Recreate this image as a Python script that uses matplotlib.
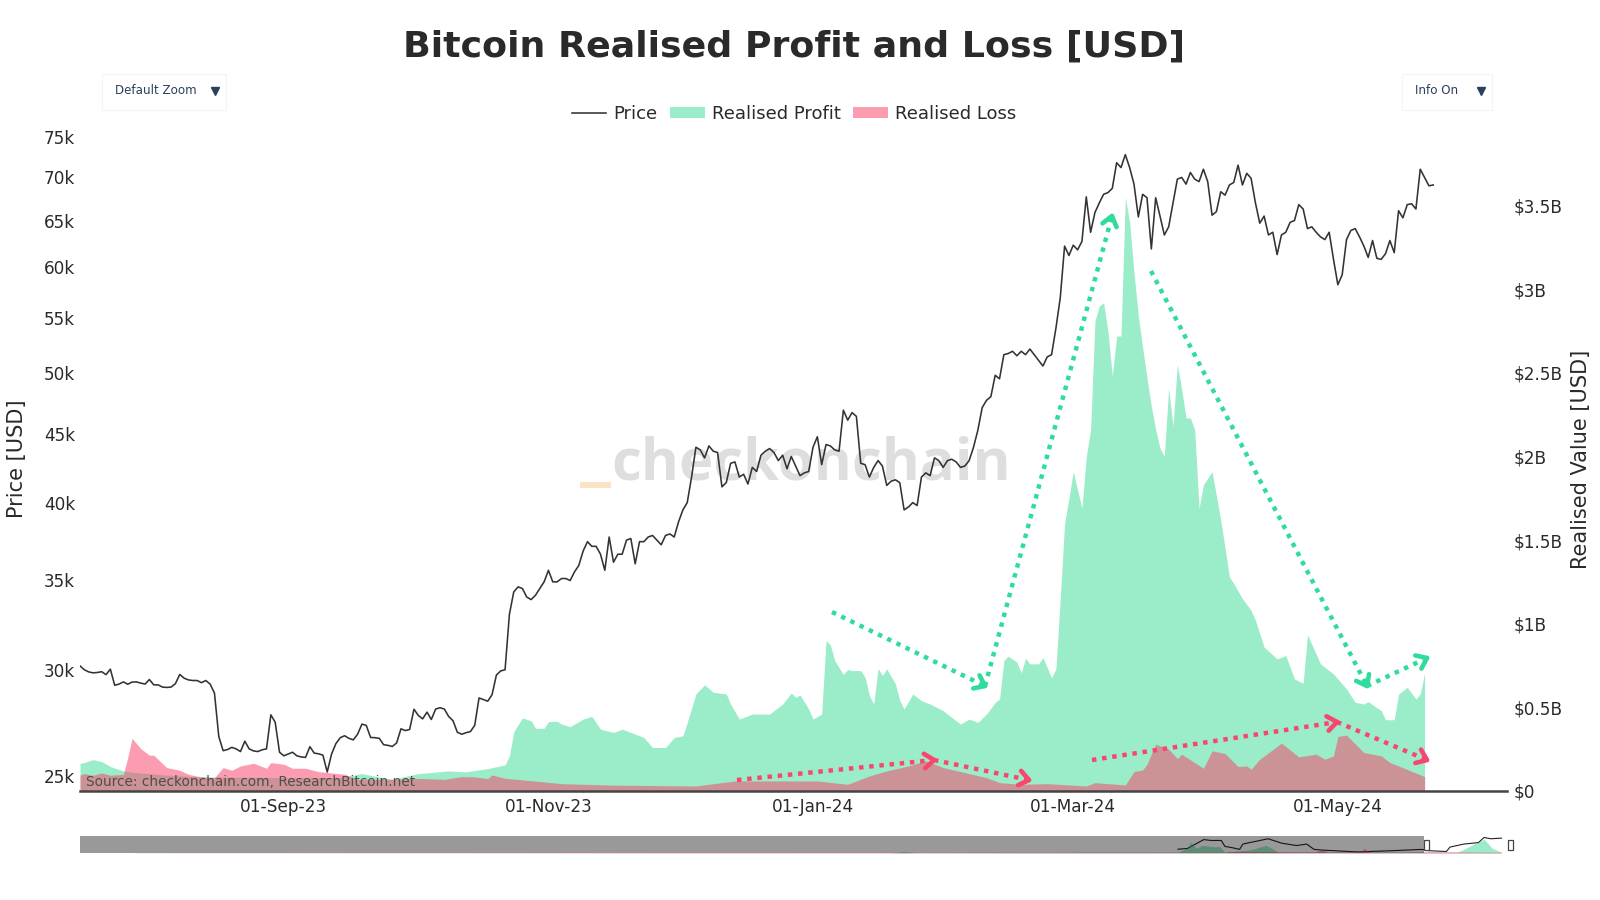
import numpy as np
import pandas as pd
import matplotlib
matplotlib.use('Agg')
import matplotlib.pyplot as plt
import matplotlib.dates as mdates
from matplotlib.lines import Line2D
from matplotlib.patches import Patch, Rectangle

# daily close in $k, from 2023-07-16
start_date = pd.Timestamp('2023-07-16')
price_k = [
    30.2, 30.0, 29.89, 29.84, 29.86, 29.9, 29.75, 30.03, 29.21, 29.27,
    29.38, 29.26, 29.37, 29.38, 29.32, 29.27, 29.5, 29.23, 29.23, 29.12,
    29.1, 29.12, 29.29, 29.76, 29.57, 29.48, 29.45, 29.45, 29.34, 29.45,
    29.27, 28.82, 26.74, 26.1, 26.15, 26.25, 26.18, 26.06, 26.53, 26.18,
    26.09, 26.06, 26.14, 26.18, 27.76, 27.41, 26.03, 25.87, 25.95, 26.03,
    25.87, 25.82, 25.8, 26.28, 25.99, 25.96, 25.9, 25.16, 25.95, 26.42,
    26.69, 26.78, 26.66, 26.59, 26.85, 27.32, 27.26, 26.7, 26.69, 26.66,
    26.37, 26.34, 26.29, 26.45, 27.1, 27.02, 27.07, 28.03, 27.73, 27.57,
    27.89, 27.54, 28.04, 28.1, 28.04, 27.68, 27.48, 26.94, 26.85, 26.92,
    26.97, 27.26, 28.58, 28.5, 28.42, 28.74, 29.73, 29.94, 30.0, 33.0,
    34.3, 34.6, 34.5, 34.0, 33.85, 34.1, 34.5, 34.9, 35.6, 34.9,
    34.9, 35.1, 35.1, 34.98, 35.5, 35.9, 36.8, 37.4, 37.1, 37.1,
    36.6, 35.6, 37.7, 36.1, 36.6, 36.6, 37.5, 37.6, 36.0, 37.4,
    37.4, 37.7, 37.8, 37.5, 37.2, 37.8, 37.9, 37.7, 38.7, 39.5,
    40.0, 41.8, 44.0, 43.8, 43.2, 44.1, 43.7, 43.6, 41.1, 41.4,
    42.8, 42.9, 41.8, 42.0, 41.3, 42.5, 42.2, 43.4, 43.7, 43.9,
    43.6, 43.0, 43.4, 42.4, 43.3, 42.6, 41.9, 42.1, 42.2, 44.0,
    44.8, 42.7, 44.2, 44.1, 43.8, 43.7, 46.9, 46.1, 46.7, 46.4,
    42.8, 42.7, 41.8, 42.5, 43.0, 42.6, 41.2, 41.5, 41.6, 41.4,
    39.5, 39.7, 40.0, 39.8, 41.8, 42.1, 41.9, 43.2, 43.0, 42.5,
    43.0, 43.1, 42.9, 42.5, 42.6, 43.0, 44.0, 45.3, 47.1, 47.7,
    48.0, 49.8, 49.5, 51.6, 51.7, 51.9, 51.5, 51.9, 51.6, 52.1,
    51.6, 51.1, 50.6, 51.4, 51.6, 54.0, 56.9, 62.2, 61.2, 62.3,
    61.8, 62.7, 67.7, 63.7, 65.9, 67.0, 68.0, 68.2, 68.7, 71.8,
    71.2, 72.8, 71.2, 69.2, 65.4, 68.0, 67.6, 61.9, 67.6, 65.5,
    63.4, 64.3, 67.0, 69.8, 70.0, 69.2, 70.6, 69.8, 69.5, 71.0,
    69.5, 65.6, 66.0, 68.3, 67.9, 69.1, 69.4, 71.5, 69.1, 70.5,
    69.9, 67.0, 64.7, 65.5, 63.4, 63.7, 61.3, 63.4, 63.7, 64.8,
    65.0, 66.8, 66.3, 64.1, 64.3, 63.7, 63.2, 62.9, 63.7, 60.8,
    58.2, 59.2, 62.9, 63.9, 64.1, 63.2, 62.2, 61.0, 62.8, 60.9,
    60.8, 61.4, 62.8, 61.5, 66.1, 65.3, 66.8, 66.9, 66.3, 71.0,
    70.0, 69.0, 69.1,
]

# realised profit in $B, day = days after start_date
profit_day = [
    0, 1, 3, 5, 7, 10, 13, 20, 27, 32, 47, 60, 65, 69, 72, 78, 85, 89, 94, 98,
    99, 100, 102, 104, 105, 107, 108, 110, 111, 113, 116, 118, 120, 123, 125, 127, 130, 132, 135, 137,
    139, 140, 142, 144, 146, 149, 150, 152, 155, 157, 159, 162, 164, 165, 166, 168, 169, 171, 172, 173,
    174, 176, 177, 178, 180, 181, 182, 183, 184, 185, 186, 188, 189, 190, 192, 194, 196, 199, 203, 205,
    207, 209, 211, 212, 213, 214, 216, 217, 218, 219, 221, 222, 224, 225, 226, 227, 228, 229, 231, 232,
    233, 234, 235, 236, 237, 238, 239, 240, 241, 242, 243, 244, 245, 246, 247, 248, 249, 250, 251, 252,
    253, 254, 255, 256, 257, 258, 259, 261, 263, 265, 266, 268, 270, 271, 273, 276, 278, 280, 282, 283,
    286, 289, 292, 294, 296, 297, 300, 301, 303, 304, 306, 308, 309, 310,
]
profit_val = [
    .166, .17, .188, .176, .146, .12, .11, .095, .085, .084, .08, .08, .104, .084, .07, .104, .12, .115, .134, .156,
    .21, .355, .437, .42, .375, .375, .415, .417, .40, .385, .43, .446, .37, .35, .37, .35, .32, .26, .26, .32,
    .33, .41, .58, .635, .59, .58, .52, .43, .46, .46, .46, .52, .586, .56, .574, .49, .43, .46, .90, .873,
    .78, .696, .727, .72, .72, .68, .57, .52, .733, .69, .73, .64, .54, .49, .58, .54, .52, .48, .40, .43,
    .41, .46, .53, .55, .78, .806, .77, .706, .794, .76, .76, .798, .676, .73, 1.15, 1.6, 1.75, 1.91, 1.69, 2.0,
    2.16, 2.81, 2.90, 2.92, 2.75, 2.48, 2.72, 2.72, 3.55, 3.40, 3.1, 2.84, 2.65, 2.47, 2.3, 2.16, 2.05, 2.0, 2.41, 2.18,
    2.55, 2.4, 2.23, 2.23, 2.16, 1.69, 1.83, 1.91, 1.62, 1.28, 1.24, 1.15, 1.08, 1.02, .86, .79, .81, .67, .644, .934,
    .76, .70, .61, .53, .52, .534, .48, .426, .426, .58, .62, .55, .58, .706,
]

# realised loss in $B
loss_day = [
    0, 1, 3, 5, 7, 10, 11, 12, 14, 16, 17, 20, 23, 25, 28, 31, 33, 35, 37, 40,
    43, 44, 47, 49, 52, 55, 61, 64, 72, 77, 84, 88, 91, 94, 95, 98, 103, 111, 123, 142,
    151, 170, 177, 182, 186, 191, 195, 199, 204, 209, 212, 217, 223, 232, 234, 241, 243, 245, 246, 248,
    251, 253, 254, 259, 261, 264, 267, 269, 270, 272, 277, 281, 285, 287, 289, 290, 292, 296, 300, 302,
    304, 310,
]
loss_val = [
    .096, .104, .094, .108, .094, .1, .2, .315, .254, .214, .214, .14, .124, .1, .084, .08, .14, .124, .15, .166,
    .136, .17, .16, .136, .136, .116, .1, .07, .07, .076, .07, .086, .084, .074, .096, .076, .064, .044, .035, .03,
    .06, .06, .04, .09, .12, .15, .18, .14, .11, .08, .05, .04, .044, .03, .05, .036, .116, .126, .16, .28,
    .25, .194, .22, .136, .24, .224, .146, .15, .13, .19, .286, .204, .22, .19, .21, .326, .334, .23, .21, .17,
    .15, .086,
]

# range slider, whole history in decimal years
slider_price_year = [2020.86, 2020.96, 2021.08, 2021.14, 2021.22, 2021.33, 2021.37,
                     2021.45, 2021.53, 2021.565, 2021.64, 2021.84, 2021.99, 2022.15, 2022.26, 2022.34, 2022.42,
                     2022.81, 2023.2, 2023.51, 2023.585, 2023.78, 2023.82, 2023.97, 2024.13, 2024.19, 2024.265, 2024.38]
slider_price_k = [18, 21, 49, 63, 59, 59, 31, 25, 17, 42, 49, 67, 46, 35, 42, 17, 14,
                  5, 11, 17, 11, 7, 28, 42, 49, 73, 67, 70]
slider_profit_year = [2009.5, 2017.75, 2017.87, 2018.0, 2020.86, 2020.96, 2021.0, 2021.06, 2021.12, 2021.26, 2021.31,
                      2021.37, 2021.64, 2021.82, 2021.95, 2023.9, 2023.94, 2024.19, 2024.28, 2024.38]
slider_profit_val = [0, 0, .35, .05, .2, 1.17, 2.7, 1.17, 1.95, 1.56, 1.7, .2, .78, 1.95, .2, .2, .62, 3.5, 1.17, .2]
slider_loss_year = [2009.5, 2021.37, 2021.4, 2022.35, 2022.42, 2022.5, 2022.86, 2022.88, 2022.95, 2023.3, 2023.6, 2024.38]
slider_loss_val = [.05, .2, .4, .3, .8, .25, .3, 1.17, .2, .2, .35, .2]

price_ticks = [25, 30, 35, 40, 45, 50, 55, 60, 65, 70, 75]
value_ticks = [0, 0.5, 1, 1.5, 2, 2.5, 3, 3.5]
value_labels = ['$0', '$0.5B', '$1B', '$1.5B', '$2B', '$2.5B', '$3B', '$3.5B']
date_ticks = ['2023-09-01', '2023-11-01', '2024-01-01', '2024-03-01', '2024-05-01']

GREEN = '#23D589'
RED = '#FB3B65'
ARROW_GREEN = '#2FDC9B'
ARROW_RED = '#F9466F'
TEXT = '#2a2a2a'
W, H = 1600, 900


def dates_from(days):
    return start_date + pd.to_timedelta(days, unit='D')


def px_axes(fig, left, top, right, bottom):
    return fig.add_axes([left / W, 1 - bottom / H, (right - left) / W, (bottom - top) / H])


def dotted_arrow(ax, p0, p1, color):
    ax.plot([p0[0], p1[0]], [p0[1], p1[1]], color=color, lw=3.2,
            linestyle=(0, (1, 1.3)), dash_capstyle='butt')
    ang = np.arctan2(p0[1] - p1[1], p0[0] - p1[0])
    for da in (-0.65, 0.65):
        ax.plot([p1[0], p1[0] + 12 * np.cos(ang + da)], [p1[1], p1[1] + 12 * np.sin(ang + da)],
                color=color, lw=3.3, solid_capstyle='round')


fig = plt.figure(figsize=(16, 9), dpi=100, facecolor='white')

# main axes, realised value underneath and price on top
ax_val = px_axes(fig, 80, 127, 1507, 791)
ax_val.patch.set_visible(False)
ax_price = ax_val.twinx()
ax_val.set_zorder(1)
ax_price.set_zorder(2)
ax_price.patch.set_visible(False)

dates = pd.date_range(start_date, periods=len(price_k), freq='D')
xmin, xmax = start_date, start_date + pd.Timedelta(days=329)

ax_val.fill_between(dates_from(profit_day), 0, profit_val, color=GREEN, alpha=0.45, lw=0)
ax_val.fill_between(dates_from(loss_day), 0, loss_val, color=RED, alpha=0.5, lw=0)
ax_price.plot(dates, price_k, color='#333333', lw=1.15, solid_joinstyle='round')

ax_val.set_xlim(xmin, xmax)
ax_val.set_ylim(0, 3.97)
ax_val.yaxis.tick_right()
ax_val.yaxis.set_label_position('right')
ax_val.set_yticks(value_ticks)
ax_val.set_yticklabels(value_labels)
ax_val.set_ylabel('Realised Value [USD]', fontsize=15, color=TEXT, labelpad=6)
ax_val.set_xticks(pd.to_datetime(date_ticks))
ax_val.xaxis.set_major_formatter(mdates.DateFormatter('%d-%b-%y'))
ax_val.tick_params(axis='x', length=0, pad=5, labelsize=12.2, labelcolor=TEXT)
ax_val.tick_params(axis='y', length=0, pad=5, labelsize=12.2, labelcolor=TEXT)

ax_price.set_yscale('log')
ax_price.set_ylim(24.35, 76.35)
ax_price.yaxis.tick_left()
ax_price.yaxis.set_label_position('left')
ax_price.set_yticks(price_ticks)
ax_price.set_yticklabels([f'{p}k' for p in price_ticks])
ax_price.minorticks_off()
ax_price.tick_params(axis='y', which='both', length=0, pad=3.5, labelsize=12.2, labelcolor=TEXT)
ax_price.set_ylabel('Price [USD]', fontsize=15, color=TEXT, labelpad=12)

for ax in (ax_val, ax_price):
    for side in ('top', 'left', 'right'):
        ax.spines[side].set_visible(False)
ax_price.spines['bottom'].set_color('#444444')
ax_price.spines['bottom'].set_linewidth(1.8)
ax_val.spines['bottom'].set_visible(False)

# overlay in figure pixels for watermark, buttons and hand drawn arrows
over = fig.add_axes([0, 0, 1, 1], zorder=5)
over.set_xlim(0, W)
over.set_ylim(H, 0)
over.axis('off')

wm = fig.add_axes([0, 0, 1, 1], zorder=0)
wm.set_xlim(0, W)
wm.set_ylim(H, 0)
wm.axis('off')
wm.text(611, 480, 'checkonchain', fontsize=41.8, fontweight='bold', family='Open Sans',
        color='#dedede', ha='left', va='baseline')
wm.add_patch(Rectangle((580, 482), 31, 6, color='#FCE3C3', lw=0))

over.text(86, 782, 'Source: checkonchain.com, ResearchBitcoin.net', fontsize=9.85,
          color='#444444', alpha=0.9, ha='left', va='center')

fig.text(0.4965, 1 - 47 / H, 'Bitcoin Realised Profit and Loss [USD]', fontsize=26.2, fontweight='bold',
         color=TEXT, ha='center', va='center')

for x0, x1, label, tx in [(102, 226, 'Default Zoom', 115), (1402, 1492, 'Info On', 1415)]:
    over.add_patch(Rectangle((x0, 74), x1 - x0, 36, fc='white', ec='#f4f4f4', lw=0.8))
    over.text(tx, 91, label, fontsize=8.6, color='#2a3f5f', ha='left', va='center')
    over.plot([x1 - 11], [91], marker='v', ms=6, color='#2a3f5f', ls='none')

handles = [Line2D([], [], color='#333333', lw=1.15),
           Patch(fc=GREEN, alpha=0.45, lw=0),
           Patch(fc=RED, alpha=0.5, lw=0)]
fig.legend(handles, ['Price', 'Realised Profit', 'Realised Loss'], loc='center', ncol=3,
           bbox_to_anchor=(0.4963, 1 - 114 / H), frameon=False, fontsize=13, labelcolor=TEXT,
           handlelength=1.9, handleheight=0.5, handletextpad=0.4, columnspacing=0.7)

for p0, p1 in [((832, 612), (985, 686)), ((985, 686), (1112, 216)),
               ((1151, 271), (1367, 686)), ((1367, 686), (1427, 658))]:
    dotted_arrow(over, p0, p1, ARROW_GREEN)
for p0, p1 in [((737, 780), (934, 760)), ((934, 760), (1029, 780)),
               ((1092, 760), (1337, 722)), ((1337, 722), (1427, 760))]:
    dotted_arrow(over, p0, p1, ARROW_RED)

# range slider, the unselected part sits under a dark mask
slider = px_axes(fig, 80, 836, 1507, 853)
slider.set_xlim(2008.91, 2024.44)
slider.set_ylim(0, 80)
slider_val = slider.twinx()
slider_val.set_ylim(0, 4.3)
slider_val.fill_between(slider_profit_year, 0, slider_profit_val, color=GREEN, alpha=0.45, lw=0)
slider_val.fill_between(slider_loss_year, 0, slider_loss_val, color=RED, alpha=0.5, lw=0)
slider.plot(slider_price_year, slider_price_k, color='#222222', lw=0.8)
slider_val.axvspan(2008.91, 2023.54, color='black', alpha=0.4, lw=0, zorder=5)
slider.set_zorder(slider_val.get_zorder() - 1)
slider_val.patch.set_visible(False)
for ax in (slider, slider_val):
    ax.set_yticks([])
    ax.set_xticks([])
    for s in ax.spines.values():
        s.set_visible(False)
for x in (1424, 1508):
    over.add_patch(Rectangle((x, 840), 4.5, 10, fc='white', ec='#444444', lw=0.9, zorder=6))

fig.savefig('out.png', dpi=100, facecolor='white')
